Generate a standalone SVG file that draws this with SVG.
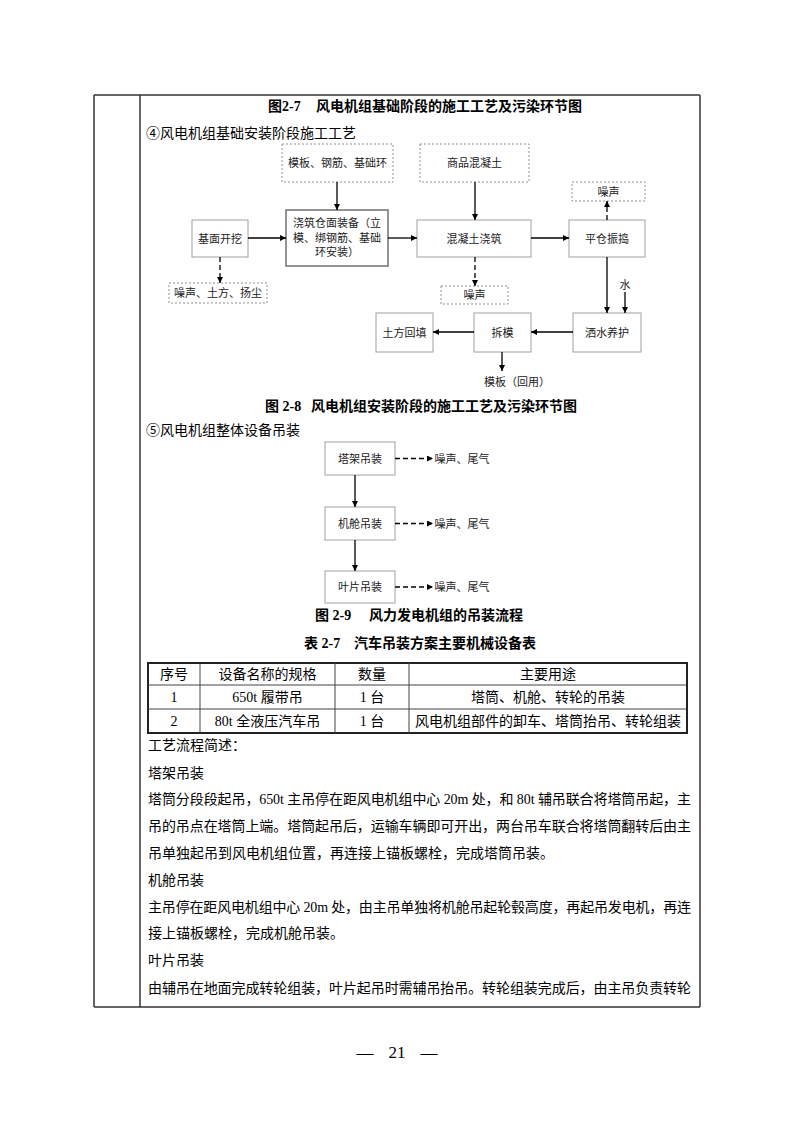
<svg xmlns="http://www.w3.org/2000/svg" width="793" height="1122" viewBox="0 0 793 1122">
<defs>
<marker id="ah" viewBox="0 0 10 10" refX="10" refY="5" markerWidth="6" markerHeight="6" markerUnits="userSpaceOnUse" orient="auto">
<path d="M0,0 L10,5 L0,10 z" fill="#000"/>
</marker>
<style>
text{font-family:"Liberation Serif","Noto Sans CJK SC",serif;fill:#000}
.t14{font-size:14px}
.cap{font-size:14px;font-weight:bold}
.s11{font-size:11px;text-anchor:middle;dominant-baseline:central;fill:#222}
.box{fill:#fff;stroke:#a0a0a0;stroke-width:1}
.boxb{fill:#fff;stroke:#707070;stroke-width:1.5}
.dbox{fill:#fff;stroke:#909090;stroke-width:1;stroke-dasharray:2,2}
.ar{stroke:#000;stroke-width:1.3;fill:none;marker-end:url(#ah)}
.dar{stroke:#000;stroke-width:1.3;fill:none;stroke-dasharray:5,3;marker-end:url(#ah)}
.frame{stroke:#333;stroke-width:1.5;fill:none}
.tb{stroke:#222;stroke-width:2;fill:none}
.tl{stroke:#444;stroke-width:1;fill:none}
.tc{font-size:14px;text-anchor:middle}
.pg{font-size:17px;text-anchor:middle}
</style>
</defs>

<g id="frame">
<line class="frame" x1="94" y1="95" x2="700" y2="95"/>
<line class="frame" x1="94" y1="95" x2="94" y2="1007"/>
<line class="frame" x1="140" y1="95" x2="140" y2="1007"/>
<line class="frame" x1="700" y1="95" x2="700" y2="1007"/>
<line class="frame" x1="94" y1="1007" x2="700" y2="1007"/>
</g>

<text class="cap" y="111"><tspan x="268">图2-7</tspan><tspan x="316">风电机组基础阶段的施工工艺及污染环节图</tspan></text>
<text class="t14" x="146" y="138">④风电机组基础安装阶段施工工艺</text>

<g id="n_muban"><rect class="dbox" x="282" y="144" width="111" height="38"/><text class="s11" x="337.5" y="163">模板、钢筋、基础环</text></g>
<g id="n_shangpin"><rect class="dbox" x="420" y="144" width="109" height="38"/><text class="s11" x="474.5" y="163">商品混凝土</text></g>
<g id="n_zaosheng1"><rect class="dbox" x="572" y="182" width="73" height="19"/><text class="s11" x="608.5" y="191.5">噪声</text></g>
<g id="n_jimian"><rect class="box" x="192" y="220" width="56" height="37"/><text class="s11" x="220" y="238.5">基面开挖</text></g>
<g id="n_jiaozhu"><rect class="boxb" x="286" y="210" width="102" height="56"/>
<text class="s11" x="337" y="223">浇筑仓面装备（立</text>
<text class="s11" x="337" y="238">模、绑钢筋、基础</text>
<text class="s11" x="337" y="252">环安装）</text></g>
<g id="n_hunningtu"><rect class="box" x="417" y="220" width="114" height="37"/><text class="s11" x="474" y="238.5">混凝土浇筑</text></g>
<g id="n_pingcang"><rect class="box" x="569" y="220" width="76" height="37"/><text class="s11" x="607" y="238.5">平仓振捣</text></g>
<g id="n_zaosheng2"><rect class="dbox" x="169" y="283" width="98" height="20"/><text class="s11" x="218" y="293">噪声、土方、扬尘</text></g>
<g id="n_zaosheng3"><rect class="dbox" x="441" y="286" width="67" height="18"/><text class="s11" x="474.5" y="295">噪声</text></g>
<g id="n_shui"><text class="s11" x="625" y="285">水</text></g>
<g id="n_sashui"><rect class="box" x="573" y="313" width="68" height="39"/><text class="s11" x="607" y="332.5">洒水养护</text></g>
<g id="n_chaimo"><rect class="box" x="474" y="313" width="57" height="39"/><text class="s11" x="502.5" y="332.5">拆模</text></g>
<g id="n_tufang"><rect class="box" x="376" y="313" width="57" height="39"/><text class="s11" x="404.5" y="332.5">土方回填</text></g>
<g id="n_mubanhy"><text class="s11" x="517" y="382">模板（回用）</text></g>

<g id="connectors1">
<line class="ar" x1="337" y1="182" x2="337" y2="210"/>
<line class="ar" x1="475" y1="182" x2="475" y2="220"/>
<line class="ar" x1="248" y1="238" x2="286" y2="238"/>
<line class="ar" x1="388" y1="238" x2="417" y2="238"/>
<line class="ar" x1="531" y1="238" x2="569" y2="238"/>
<line class="dar" x1="607" y1="220" x2="607" y2="201"/>
<line class="dar" x1="475" y1="257" x2="475" y2="286"/>
<line class="dar" x1="220" y1="257" x2="220" y2="283"/>
<line class="ar" x1="607" y1="257" x2="607" y2="313"/>
<line class="ar" x1="625" y1="292" x2="625" y2="313"/>
<line class="ar" x1="573" y1="332" x2="531" y2="332"/>
<line class="ar" x1="474" y1="332" x2="433" y2="332"/>
<line class="ar" x1="502" y1="352" x2="502" y2="371"/>
</g>

<text class="cap" y="411"><tspan x="265">图 2-8</tspan><tspan x="311">风电机组安装阶段的施工工艺及污染环节图</tspan></text>
<text class="t14" x="146" y="435">⑤风电机组整体设备吊装</text>

<g id="n_tajia"><rect class="box" x="325" y="442" width="70" height="33"/><text class="s11" x="360" y="458.5">塔架吊装</text></g>
<g id="n_jicang"><rect class="box" x="325" y="507" width="70" height="33"/><text class="s11" x="360" y="523.5">机舱吊装</text></g>
<g id="n_yepian"><rect class="box" x="325" y="571" width="70" height="32"/><text class="s11" x="360" y="587">叶片吊装</text></g>
<g id="n_ns1"><text class="s11" x="462" y="458.5">噪声、尾气</text></g>
<g id="n_ns2"><text class="s11" x="462" y="523.5">噪声、尾气</text></g>
<g id="n_ns3"><text class="s11" x="462" y="587">噪声、尾气</text></g>

<g id="connectors2">
<line class="ar" x1="355" y1="475" x2="355" y2="507"/>
<line class="ar" x1="355" y1="540" x2="355" y2="571"/>
<line class="dar" x1="395" y1="458.5" x2="433" y2="458.5"/>
<line class="dar" x1="395" y1="523.5" x2="433" y2="523.5"/>
<line class="dar" x1="395" y1="587" x2="433" y2="587"/>
</g>

<text class="cap" y="620"><tspan x="315">图 2-9</tspan><tspan x="369">风力发电机组的吊装流程</tspan></text>
<text class="cap" y="648"><tspan x="304">表 2-7</tspan><tspan x="354">汽车吊装方案主要机械设备表</tspan></text>

<g id="table">
<rect class="tb" x="148" y="663" width="539" height="70"/>
<line class="tl" x1="148" y1="685" x2="687" y2="685"/>
<line class="tl" x1="148" y1="709" x2="687" y2="709"/>
<line class="tl" x1="200" y1="663" x2="200" y2="733"/>
<line class="tl" x1="335" y1="663" x2="335" y2="733"/>
<line class="tl" x1="409" y1="663" x2="409" y2="733"/>
<text class="tc" x="174" y="679">序号</text>
<text class="tc" x="267.5" y="679">设备名称的规格</text>
<text class="tc" x="372" y="679">数量</text>
<text class="tc" x="548" y="679">主要用途</text>
<text class="tc" x="174" y="702">1</text>
<text class="tc" x="267.5" y="702">650t 履带吊</text>
<text class="tc" x="372" y="702">1 台</text>
<text class="tc" x="548" y="702">塔筒、机舱、转轮的吊装</text>
<text class="tc" x="174" y="726">2</text>
<text class="tc" x="267.5" y="726">80t 全液压汽车吊</text>
<text class="tc" x="372" y="726">1 台</text>
<text class="tc" x="548" y="726">风电机组部件的卸车、塔筒抬吊、转轮组装</text>
</g>

<g id="body">
<text class="t14" x="148" y="750">工艺流程简述：</text>
<text class="t14" x="148" y="778">塔架吊装</text>
<text class="t14" x="148" y="804" textLength="543" lengthAdjust="spacing">塔筒分段段起吊，650t 主吊停在距风电机组中心 20m 处，和 80t 辅吊联合将塔筒吊起，主</text>
<text class="t14" x="148" y="831" textLength="543" lengthAdjust="spacing">吊的吊点在塔筒上端。塔筒起吊后，运输车辆即可开出，两台吊车联合将塔筒翻转后由主</text>
<text class="t14" x="148" y="858">吊单独起吊到风电机组位置，再连接上锚板螺栓，完成塔筒吊装。</text>
<text class="t14" x="148" y="885">机舱吊装</text>
<text class="t14" x="148" y="912" textLength="543" lengthAdjust="spacing">主吊停在距风电机组中心 20m 处，由主吊单独将机舱吊起轮毂高度，再起吊发电机，再连</text>
<text class="t14" x="148" y="938">接上锚板螺栓，完成机舱吊装。</text>
<text class="t14" x="148" y="965">叶片吊装</text>
<text class="t14" x="148" y="993" textLength="543" lengthAdjust="spacing">由辅吊在地面完成转轮组装，叶片起吊时需辅吊抬吊。转轮组装完成后，由主吊负责转轮</text>
</g>

<g id="pagenum">
<text class="pg" x="365" y="1058">—</text>
<text class="pg" x="397" y="1058">21</text>
<text class="pg" x="429" y="1058">—</text>
</g>
</svg>
